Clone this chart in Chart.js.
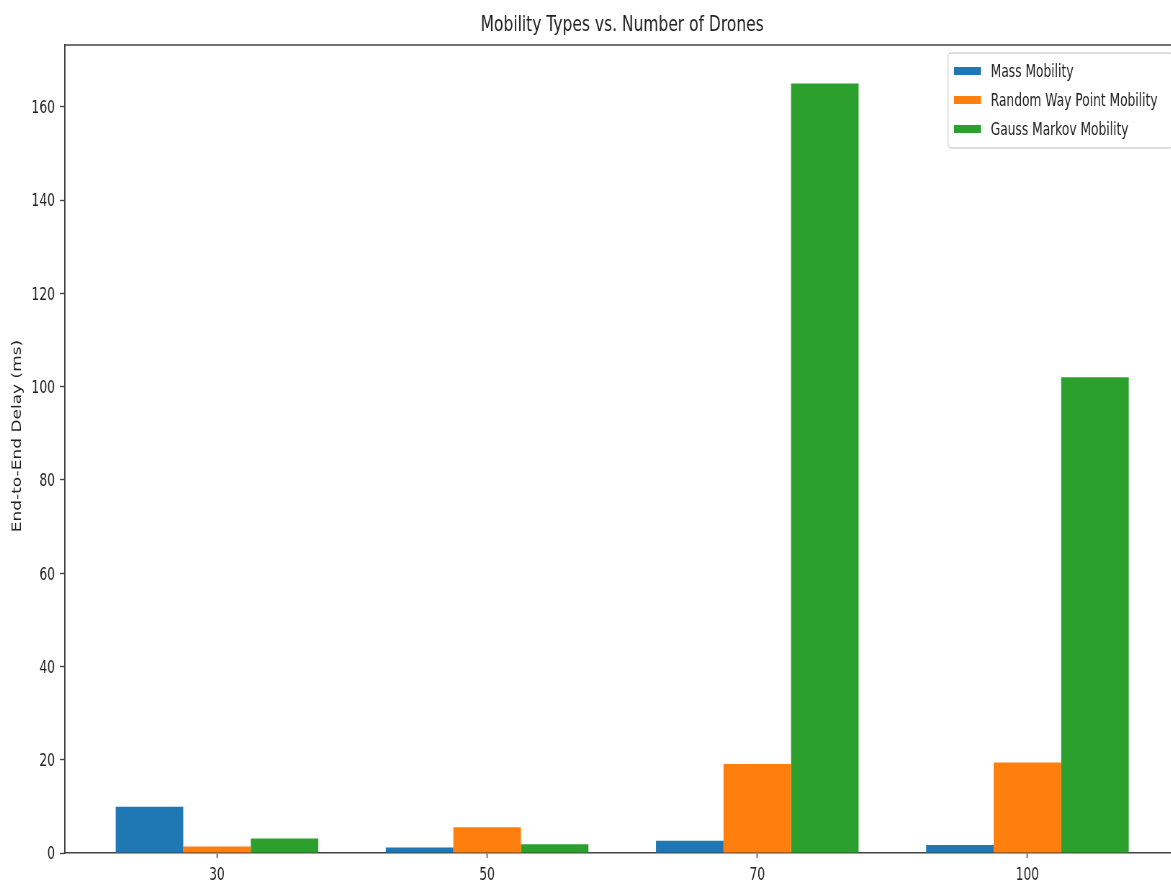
<!DOCTYPE html>
<html>
<head>
<meta charset="utf-8">
<title>Mobility Types vs. Number of Drones</title>
<script src="https://cdn.jsdelivr.net/npm/chart.js@4.4.1/dist/chart.umd.min.js"></script>
<style>
  html, body { margin: 0; padding: 0; background: #fff; overflow: hidden; width: 1171px; height: 882px; }
  /* the figure is drawn wide and narrowed horizontally, giving its condensed look */
  #wrap { position: absolute; left: 0; top: 0; width: 1660px; height: 882px; transform: scaleX(0.72); transform-origin: 0 0; }
</style>
</head>
<body>
<div id="wrap"><canvas id="c" width="1660" height="882"></canvas></div>
<script>
// Number of drones per scenario (x categories)
const droneCounts = ['30', '50', '70', '100'];

// End-to-end delay (ms) per mobility model
const massMobility   = [9.9, 1.2, 2.6, 1.7];
const randomWayPoint = [1.4, 5.5, 19.1, 19.4];
const gaussMarkov    = [3.1, 1.9, 165.0, 102.0];

const seriesLabels = ['Mass Mobility', 'Random Way Point Mobility', 'Gauss Markov Mobility'];
const seriesColors = ['#1f77b4', '#ff7f0e', '#2ca02c'];

// y axis ticks and limits
const yTickValues = [0, 20, 40, 60, 80, 100, 120, 140, 160];
const yMax = 173.25;
const xMin = -0.5625, xMax = 3.5625;

const FONT = "'DejaVu Sans', 'Noto Sans', sans-serif";
const AXIS = '#444';
const TEXT = '#222';

const toPoints = vals => vals.map((v, i) => ({ x: i, y: v }));

// Top/right spines, rotated y label and the in-plot legend
const framePlugin = {
  id: 'frame',
  afterDatasetsDraw(chart) {
    const { ctx, chartArea: a } = chart;
    ctx.save();
    ctx.strokeStyle = AXIS;
    ctx.lineWidth = 1.5;
    ctx.beginPath();
    ctx.moveTo(a.left, a.top);
    ctx.lineTo(a.right, a.top);
    ctx.stroke();
    ctx.lineWidth = 2;
    ctx.beginPath();
    ctx.moveTo(a.right, a.top);
    ctx.lineTo(a.right, a.bottom);
    ctx.stroke();

    // y axis label
    ctx.save();
    ctx.translate(25, 436);
    ctx.rotate(-Math.PI / 2);
    ctx.fillStyle = TEXT;
    ctx.font = '17px ' + FONT;
    ctx.textAlign = 'center';
    ctx.textBaseline = 'middle';
    ctx.fillText('End-to-End Delay (ms)', 0, 0);
    ctx.restore();

    // legend box
    const bx = 1316.7, by = 53, bw = a.right - 10 - bx, bh = 95;
    ctx.fillStyle = 'rgba(255,255,255,0.85)';
    ctx.strokeStyle = '#d2d2d2';
    ctx.lineWidth = 1.4;
    ctx.beginPath();
    ctx.roundRect(bx, by, bw, bh, 4);
    ctx.fill();
    ctx.stroke();

    ctx.font = '17px ' + FONT;
    ctx.textAlign = 'left';
    ctx.textBaseline = 'middle';
    chart.data.datasets.forEach((ds, i) => {
      const cy = 71 + i * 29;
      ctx.fillStyle = ds.backgroundColor;
      ctx.fillRect(1325, cy - 4, 37.5, 8);
      ctx.fillStyle = TEXT;
      ctx.fillText(ds.label, 1376, cy + 2);
    });
    ctx.restore();
  }
};

new Chart(document.getElementById('c'), {
  type: 'bar',
  data: {
    datasets: [
      { label: seriesLabels[0], data: toPoints(massMobility),   backgroundColor: seriesColors[0] },
      { label: seriesLabels[1], data: toPoints(randomWayPoint), backgroundColor: seriesColors[1] },
      { label: seriesLabels[2], data: toPoints(gaussMarkov),    backgroundColor: seriesColors[2] }
    ]
  },
  options: {
    responsive: false,
    animation: false,
    devicePixelRatio: 1,
    categoryPercentage: 0.75,
    barPercentage: 1.0,
    layout: { padding: { left: 0, right: 22, top: 0, bottom: 0 } },
    plugins: {
      legend: { display: false },
      tooltip: { enabled: false },
      title: {
        display: true,
        text: 'Mobility Types vs. Number of Drones',
        fullSize: false,
        color: TEXT,
        font: { family: FONT, size: 21.5, weight: 'normal', lineHeight: 1.2 },
        padding: { top: 12.5, bottom: 6.7 }
      }
    },
    scales: {
      x: {
        type: 'linear',
        offset: false,
        min: xMin,
        max: xMax,
        afterBuildTicks: s => { s.ticks = droneCounts.map((_, i) => ({ value: i })); },
        afterFit: s => { s.height = 29; },
        ticks: {
          callback: v => droneCounts[v],
          color: TEXT,
          font: { family: FONT, size: 17 },
          padding: 7,
          maxRotation: 0,
          autoSkip: false
        },
        grid: { offset: false, drawOnChartArea: false, drawTicks: true, tickLength: 5, tickColor: AXIS, tickWidth: 1.5 },
        border: { display: true, color: AXIS, width: 1.5 }
      },
      y: {
        min: 0,
        max: yMax,
        afterBuildTicks: s => { s.ticks = yTickValues.map(v => ({ value: v })); },
        afterFit: s => { s.width = 90.3; },
        ticks: {
          color: TEXT,
          font: { family: FONT, size: 17 },
          padding: 7,
          labelOffset: 2,
          includeBounds: false
        },
        grid: { drawOnChartArea: false, drawTicks: true, tickLength: 7, tickColor: AXIS, tickWidth: 1.4 },
        border: { display: true, color: AXIS, width: 2 }
      }
    }
  },
  plugins: [framePlugin]
});
</script>
</body>
</html>
